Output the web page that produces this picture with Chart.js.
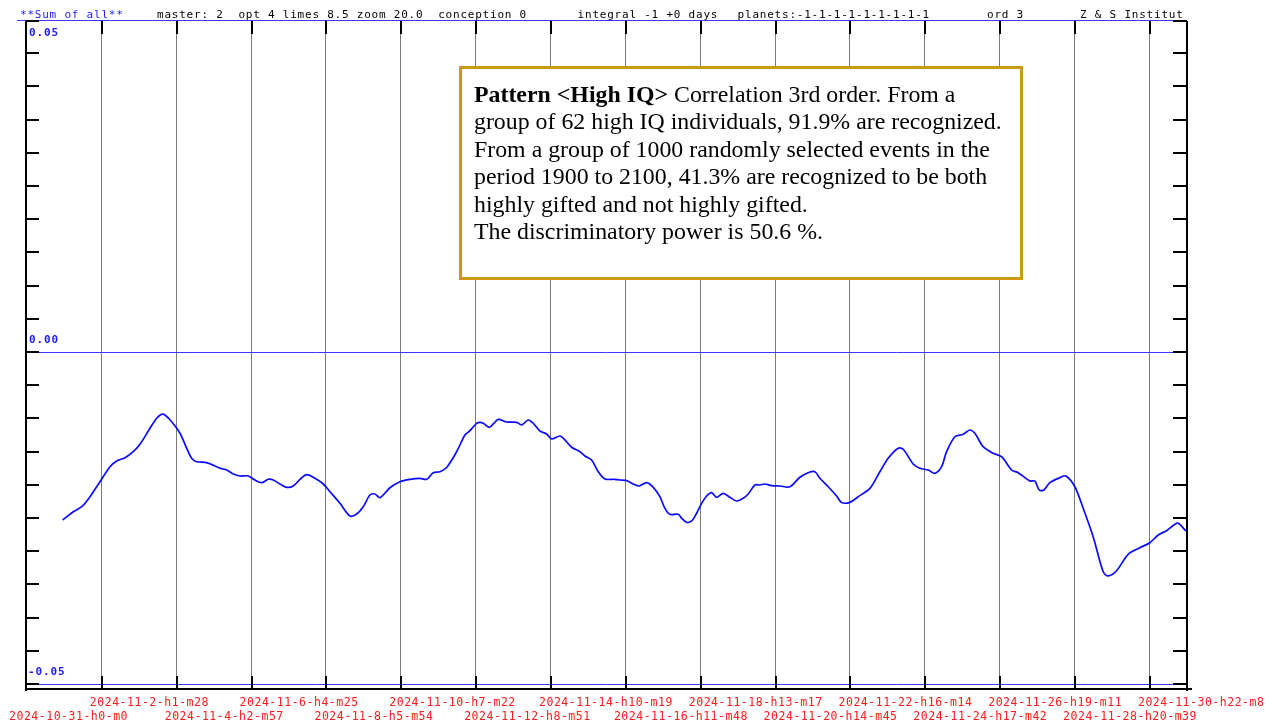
<!DOCTYPE html>
<html><head><meta charset="utf-8">
<script src="https://cdn.jsdelivr.net/npm/chart.js@4.4.1/dist/chart.umd.min.js"></script>
<style>
html,body{margin:0;padding:0;background:#fff;overflow:hidden}
#wrap{position:relative;width:1274px;height:722px}
</style>
</head><body>
<div id="wrap"><canvas id="c" width="1274" height="722"></canvas></div>
<script>
// ---- data (x in days since 2024-10-31 h0 m0, y = sum value) ----
const dayOffsets = [
 1.010,1.302,1.534,1.762,2.037,2.313,2.497,2.726,2.954,3.139,3.414,3.599,3.736,3.827,4.012,4.240,4.425,4.562,4.700,4.975,
 5.341,5.526,5.708,5.892,6.121,6.305,6.490,6.671,6.809,6.993,7.178,7.360,7.544,7.729,7.957,8.186,8.370,8.645,8.921,9.105,
 9.287,9.471,9.609,9.747,10.022,10.297,10.573,10.848,11.033,11.214,11.399,11.583,11.859,12.087,12.225,12.409,12.500,12.591,12.756,12.866,
 13.004,13.235,13.510,13.648,13.830,13.968,14.152,14.336,14.474,14.703,14.840,15.025,15.253,15.391,15.575,15.757,15.942,16.217,16.355,16.539,
 16.721,16.886,17.090,17.272,17.456,17.594,17.731,17.960,18.054,18.191,18.329,18.467,18.604,18.742,18.880,19.017,19.199,19.383,19.568,19.750,
 19.887,20.072,20.209,20.347,20.531,20.760,21.035,21.311,21.539,21.724,21.861,22.090,22.321,22.459,22.687,22.916,23.238,23.513,23.742,24.017,
 24.155,24.431,24.615,24.843,25.028,25.212,25.350,25.578,25.807,25.991,26.129,26.357,26.633,26.864,27.140,27.321,27.643,27.781,27.899,28.029,
 28.194,28.469,28.634,28.882,29.111,29.386,29.662,29.799,30.031,30.350,30.672,30.947,31.176,31.407,31.683,31.773,31.938
];
const sumValues = [
 -0.02530,-0.02405,-0.02330,-0.02179,-0.01953,-0.01727,-0.01642,-0.01592,-0.01501,-0.01390,-0.01149,-0.00998,-0.00938,-0.00949,-0.01050,-0.01224,-0.01450,-0.01601,-0.01652,-0.01667,
 -0.01751,-0.01777,-0.01837,-0.01867,-0.01867,-0.01928,-0.01968,-0.01917,-0.01928,-0.01988,-0.02038,-0.02018,-0.01917,-0.01848,-0.01902,-0.01988,-0.02104,-0.02279,-0.02470,-0.02440,
 -0.02330,-0.02154,-0.02139,-0.02194,-0.02044,-0.01953,-0.01917,-0.01902,-0.01917,-0.01818,-0.01803,-0.01739,-0.01501,-0.01250,-0.01185,-0.01074,-0.01059,-0.01074,-0.01134,-0.01084,
 -0.01014,-0.01054,-0.01059,-0.01099,-0.01024,-0.01074,-0.01190,-0.01235,-0.01310,-0.01265,-0.01325,-0.01435,-0.01501,-0.01566,-0.01626,-0.01803,-0.01913,-0.01917,-0.01928,-0.01938,
 -0.01988,-0.02018,-0.01968,-0.02038,-0.02179,-0.02354,-0.02444,-0.02444,-0.02504,-0.02565,-0.02545,-0.02429,-0.02279,-0.02169,-0.02119,-0.02188,-0.02128,-0.02188,-0.02244,-0.02203,
 -0.02139,-0.02003,-0.02003,-0.01988,-0.02013,-0.02018,-0.02029,-0.01887,-0.01818,-0.01803,-0.01902,-0.02029,-0.02169,-0.02267,-0.02264,-0.02179,-0.02053,-0.01803,-0.01601,-0.01450,
 -0.01465,-0.01687,-0.01751,-0.01777,-0.01827,-0.01727,-0.01501,-0.01276,-0.01239,-0.01175,-0.01224,-0.01426,-0.01526,-0.01577,-0.01777,-0.01818,-0.01943,-0.01943,-0.02078,-0.02078,
 -0.01968,-0.01893,-0.01867,-0.02029,-0.02354,-0.02782,-0.03309,-0.03373,-0.03294,-0.03047,-0.02947,-0.02872,-0.02756,-0.02691,-0.02580,-0.02595,-0.02696
];
const xTickLabels = [
 "2024-10-31-h0-m0","2024-11-2-h1-m28","2024-11-4-h2-m57","2024-11-6-h4-m25","2024-11-8-h5-m54",
 "2024-11-10-h7-m22","2024-11-12-h8-m51","2024-11-14-h10-m19","2024-11-16-h11-m48","2024-11-18-h13-m17",
 "2024-11-20-h14-m45","2024-11-22-h16-m14","2024-11-24-h17-m42","2024-11-26-h19-m11","2024-11-28-h20-m39",
 "2024-11-30-h22-m8"
];
const yTickLabels = ["0.05","0.00","-0.05"];
const yTickValues = [0.05,0.00,-0.05];
const headerParts = [
 ["**Sum of all**","#1a1aff",20],
 ["master: 2  opt 4 limes 8.5 zoom 20.0  conception 0","#000",157],
 ["integral -1 +0 days","#000",577.6],
 ["planets:-1-1-1-1-1-1-1-1-1","#000",737.6],
 ["ord 3","#000",987],
 ["Z & S Institut","#000",1080]
];
const boxBold = "Pattern <High IQ>";
const boxLines = [
 " Correlation 3rd order. From a",
 "group of 62 high IQ individuals, 91.9% are recognized.",
 "From a group of 1000 randomly selected events in the",
 "period 1900 to 2100, 41.3% are recognized to be both",
 "highly gifted and not highly gifted.",
 "The discriminatory power is 50.6 %."
];
const X_MAX_DAYS = 31.97;

function labelToDays(s){
  const m = s.match(/(\d+)-(\d+)-(\d+)-h(\d+)-m(\d+)/);
  const t = Date.UTC(+m[1], +m[2]-1, +m[3], +m[4], +m[5]);
  return (t - Date.UTC(2024,9,31,0,0)) / 86400000;
}
const xTickDays = xTickLabels.map(labelToDays);

function mono(ctx, str, x, y, color, pitch, font){
  ctx.letterSpacing = '0px';
  ctx.font = font;
  const w = ctx.measureText('0').width;
  ctx.letterSpacing = (pitch - w) + 'px';
  ctx.fillStyle = color;
  ctx.textAlign = 'left';
  ctx.textBaseline = 'alphabetic';
  ctx.fillText(str, x, y);
  ctx.letterSpacing = '0px';
}

const MONO = '"DejaVu Sans Mono", "Liberation Mono", monospace';

const decor = {
  id: 'decor',
  beforeDatasetsDraw(chart){
    const ctx = chart.ctx, xs = chart.scales.x, ys = chart.scales.y;
    const top = Math.round(ys.getPixelForValue(0.05));
    const bot = Math.round(ys.getPixelForValue(-0.05));
    const left = Math.round(xs.getPixelForValue(0));
    const right = Math.round(xs.getPixelForValue(X_MAX_DAYS));
    ctx.save();
    // vertical grid lines
    ctx.strokeStyle = '#7a7a7a'; ctx.lineWidth = 1;
    xTickDays.forEach((d,i) => {
      if (i === 0) return;
      const x = Math.round(xs.getPixelForValue(d)) + 0.5;
      ctx.beginPath(); ctx.moveTo(x, top+1); ctx.lineTo(x, bot+5); ctx.stroke();
    });
    // zero line & -0.05 line
    ctx.strokeStyle = '#3b3bff';
    [0, -0.05].forEach(v => {
      const y = Math.round(ys.getPixelForValue(v)) + 0.5;
      ctx.beginPath(); ctx.moveTo(left, y); ctx.lineTo(right, y); ctx.stroke();
    });
    // header underline
    ctx.beginPath(); ctx.moveTo(17, top+0.5); ctx.lineTo(right-7, top+0.5); ctx.stroke();
    // text box
    const bx = 459, by = 66, bw = 564, bh = 214;
    ctx.fillStyle = '#fff';
    ctx.fillRect(bx, by, bw, bh);
    ctx.strokeStyle = '#cc9911'; ctx.lineWidth = 3;
    ctx.strokeRect(bx+1.5, by+1.5, bw-3, bh-3);
    const serif = '"Liberation Serif", "Times New Roman", serif';
    let fs = 22;
    ctx.font = fs + 'px ' + serif;
    const target = 528;
    fs = fs * target / ctx.measureText(boxLines[1]).width;
    const tx = 474; let ty = 102;
    ctx.fillStyle = '#000'; ctx.textAlign = 'left'; ctx.textBaseline = 'alphabetic';
    ctx.font = 'bold ' + fs + 'px ' + serif;
    ctx.fillText(boxBold, tx, ty);
    const bw0 = ctx.measureText(boxBold).width;
    ctx.font = fs + 'px ' + serif;
    ctx.fillText(boxLines[0], tx + bw0, ty);
    for (let i = 1; i < boxLines.length; i++){
      ctx.fillText(boxLines[i], tx, ty + i*27.4);
    }
    ctx.restore();
  },
  afterDatasetsDraw(chart){
    const ctx = chart.ctx, xs = chart.scales.x, ys = chart.scales.y;
    const top = Math.round(ys.getPixelForValue(0.05));
    const bot = Math.round(ys.getPixelForValue(-0.05));
    const left = Math.round(xs.getPixelForValue(0));
    const right = Math.round(xs.getPixelForValue(X_MAX_DAYS));
    ctx.save();
    ctx.fillStyle = '#000';
    // axes frame
    ctx.fillRect(left-1, top+1, 2, bot+6-top);
    ctx.fillRect(right-1, top+1, 2, bot+6-top);
    ctx.fillRect(left-1, bot+4, right+6-left, 2);
    // y ticks
    for (let k = 0; k <= 20; k++){
      const v = 0.05 - k*0.005;
      let y = Math.round(ys.getPixelForValue(v));
      if (k === 0) y += 1;
      ctx.fillRect(left, y-1, 13, 2);
      ctx.fillRect(right-14, y-1, 14, 2);
    }
    // x ticks (top and bottom)
    xTickDays.forEach((d,i) => {
      if (i === 0) return;
      const x = Math.round(xs.getPixelForValue(d));
      ctx.fillRect(x, top+1, 2, 13);
      ctx.fillRect(x, bot-8, 2, 14);
    });
    // y labels
    const yOff = [16, -9, -9];
    yTickValues.forEach((v,i) => {
      const y = ys.getPixelForValue(v) + yOff[i];
      mono(ctx, yTickLabels[i], i===2 ? 28 : 29, y, '#1a1aff', 7.5, 'bold 11px ' + MONO);
    });
    // x labels
    xTickDays.forEach((d,i) => {
      const px = xs.getPixelForValue(d);
      const x = i === 0 ? 9 : px - 11;
      const y = (i % 2 === 0) ? 719.5 : 706;
      mono(ctx, xTickLabels[i], x, y, '#ff1a1a', 7.44, '11.5px ' + MONO);
    });
    // header
    headerParts.forEach(p => mono(ctx, p[0], p[2], 17.5, p[1], 7.4, '11px ' + MONO));
    ctx.restore();
  }
};

new Chart(document.getElementById('c'), {
  type: 'line',
  data: {
    datasets: [{
      data: dayOffsets.map((d,i) => ({x: d, y: sumValues[i]})),
      borderColor: '#0a0aff',
      borderWidth: 1.7,
      pointRadius: 0,
      tension: 0.3,
      fill: false
    }]
  },
  options: {
    responsive: false,
    animation: false,
    devicePixelRatio: 1,
    layout: { padding: { left: 26, right: 87, top: 20, bottom: 38 } },
    plugins: { legend: { display: false }, tooltip: { enabled: false }, title: { display: false } },
    scales: {
      x: { type: 'linear', min: 0, max: X_MAX_DAYS, display: false },
      y: { type: 'linear', min: -0.05, max: 0.05, display: false }
    }
  },
  plugins: [decor]
});
</script>
</body></html>
